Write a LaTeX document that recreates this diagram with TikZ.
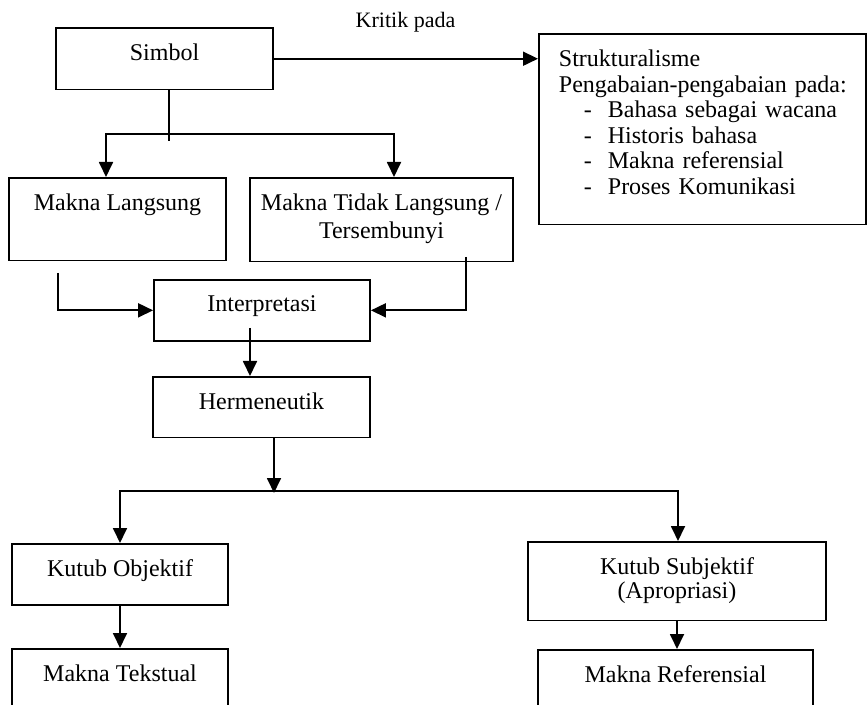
\documentclass[tikz,border=0pt]{standalone}
\usepackage{fontspec}
\setmainfont{Liberation Serif}
\usetikzlibrary{arrows.meta,calc,positioning}

\tikzset{
  box/.style={draw, line width=0.9pt, anchor=north, align=center,
    inner xsep=3pt, inner ysep=8pt},
}

\begin{document}
\begin{tikzpicture}[x=0.5pt, y=-0.5pt, line width=0.9pt,
    >={Triangle[length=7.5pt,width=7pt]},
    font=\fontsize{12}{12.8}\selectfont]
  \newcommand{\boxw}{108.5pt}
  \path[use as bounding box, clip] (0,0) rectangle (867,705);

  \node[box, minimum width=\boxw, text depth=6.5pt] (simbol) at (164.5,27) {Simbol};
  \node[anchor=base, font=\fontsize{11}{12}\selectfont] (kritik) at (405.5,28) {Kritik pada};
  \node[box, anchor=north west, align=left, text width=143.5pt, inner xsep=10pt,
    text depth=71pt] (struktur) at (538,33)
    {Strukturalisme\\
     \mbox{Pengabaian-pengabaian pada:}\\
     \hspace*{12.5pt}\makebox[12pt][l]{-}Bahasa sebagai wacana\\
     \hspace*{12.5pt}\makebox[12pt][l]{-}Historis bahasa\\
     \hspace*{12.5pt}\makebox[12pt][l]{-}Makna referensial\\
     \hspace*{12.5pt}\makebox[12pt][l]{-}Proses Komunikasi};
  \draw[->] (simbol.east) -- (simbol.east -| struktur.west);

  \node[box, minimum width=\boxw, text depth=17pt] (ml) at (117.5,177) {Makna Langsung};
  \node[box, minimum width=131.5pt, text depth=3.5pt] (mtl) at (381.5,177)
    {Makna Tidak Langsung /\\[1.2pt] Tersembunyi};
  \coordinate (s1) at (169,141);
  \coordinate (sl) at (106,134);
  \coordinate (sr) at (394,134);
  \draw (s1 |- simbol.south) -- (s1);
  \draw[<->] (sl |- ml.north) -- (sl) -- (sr) -- (sr |- mtl.north);

  \node[box, minimum width=108pt, text depth=6.5pt] (interp) at (262,279) {Interpretasi};
  \coordinate (mlout) at (58,273);
  \coordinate (mtlout) at (466,257);
  \draw[->] (mlout) |- (interp.west);
  \draw[->] (mtlout) |- (interp.east);

  \node[box, minimum width=\boxw, text depth=6pt] (herm) at (261.5,376) {Hermeneutik};
  \coordinate (s2) at (250,328);
  \draw[->] (s2) -- (s2 |- herm.north);

  \node[box, minimum width=108pt, text depth=6pt] (kobj) at (120,543) {Kutub Objektif};
  \node[box, minimum width=149pt, text depth=3pt] (ksubj) at (677,541)
    {Kutub Subjektif\\[-1pt] (Apropriasi)};
  \coordinate (s3) at (274,493);
  \coordinate (hl) at (120,491);
  \coordinate (hr) at (678,491);
  \draw[->] (s3 |- herm.south) -- (s3);
  \draw[<->] (kobj.north) -- (hl) -- (hr) -- (hr |- ksubj.north);

  \node[box, minimum width=108pt, text depth=30pt] (mtek) at (120,648) {Makna Tekstual};
  \node[box, minimum width=137.5pt, text depth=30pt] (mref) at (675.5,649) {Makna Referensial};
  \draw[->] (kobj.south) -- (mtek.north);
  \draw[->] (ksubj.south) -- (ksubj.south |- mref.north);
\end{tikzpicture}
\end{document}
